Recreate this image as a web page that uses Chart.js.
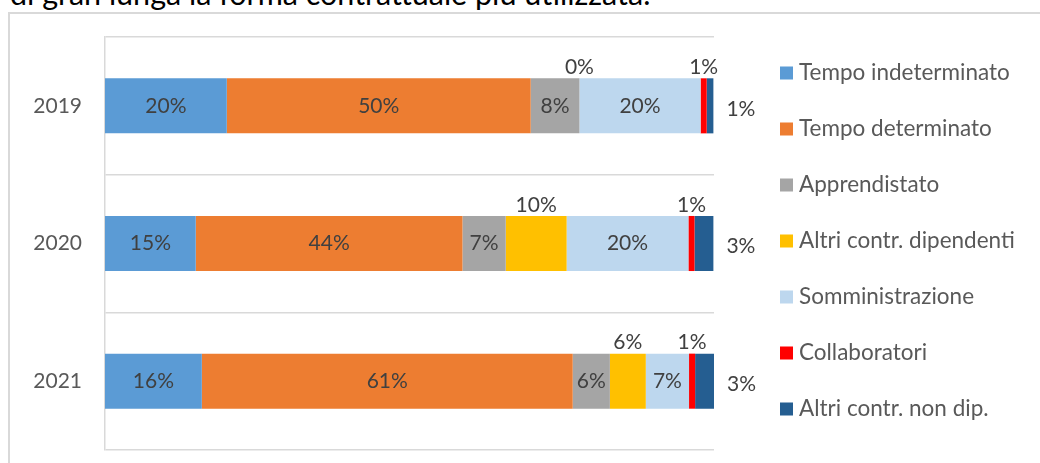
<!DOCTYPE html>
<html>
<head>
<meta charset="utf-8">
<script src="https://cdn.jsdelivr.net/npm/chart.js@4.4.0/dist/chart.umd.min.js"></script>
<style>
body { margin: 0; width: 1040px; height: 463px; overflow: hidden; background: #fff; position: relative; font-family: Lato, sans-serif; }
#title { position: absolute; left: 10px; top: -22px; font-size: 30.5px; line-height: 30px; color: #000; white-space: nowrap; }
#box { position: absolute; left: 8px; top: 12px; width: 1100px; height: 500px; border: 2px solid #d9d9d9; box-sizing: border-box; }
#grafico { position: absolute; left: 0; top: 0; display: block; }
</style>
</head>
<body>
<div id="title">di gran lunga la forma contrattuale più utilizzata.</div>
<div id="box"></div>
<canvas id="grafico" width="1040" height="463"></canvas>
<script>
// dati (quote % per anno)
var anni = ['2019', '2020', '2021']
var tempoIndeterminato = [20.0, 14.9, 15.9]
var tempoDeterminato = [49.9, 43.8, 60.9]
var apprendistato = [8.0, 7.1, 6.1]
var altriDipendenti = [0, 10.0, 5.9]
var somministrazione = [19.9, 20.0, 7.1]
var collaboratori = [1.0, 1.0, 1.0]
var altriNonDip = [1.1, 3.1, 3.1]

var nomi = ['Tempo indeterminato', 'Tempo determinato', 'Apprendistato', 'Altri contr. dipendenti',
	'Somministrazione', 'Collaboratori', 'Altri contr. non dip.']
var colori = ['#5B9BD5', '#ED7D31', '#A5A5A5', '#FFC000', '#BDD7EE', '#FF0000', '#255E91']
// dove scrivere l'etichetta di ogni serie
var posizioni = ['dentro', 'dentro', 'dentro', 'sopra', 'dentro', 'sopra', 'destra']

var serie = [tempoIndeterminato, tempoDeterminato, apprendistato, altriDipendenti,
	somministrazione, collaboratori, altriNonDip]

var FONT = 'Lato, sans-serif'

var etichette = {
	id: 'etichette',
	afterDatasetsDraw: function(chart) {
		var ctx = chart.ctx
		ctx.save()
		ctx.font = '21px ' + FONT
		ctx.fillStyle = '#404040'
		ctx.textBaseline = 'middle'
		chart.data.datasets.forEach(function(ds, i) {
			var meta = chart.getDatasetMeta(i)
			meta.data.forEach(function(bar, j) {
				var testo = Math.round(ds.data[j]) + '%'
				var pos = posizioni[i]
				var x, y
				if (pos == 'destra') {
					ctx.textAlign = 'left'
					x = bar.x + 13
					y = bar.y + 3
				} else if (pos == 'sopra') {
					ctx.textAlign = 'center'
					x = (bar.x + bar.base) / 2
					y = bar.y - bar.height / 2 - 11
				} else {
					ctx.textAlign = 'center'
					x = (bar.x + bar.base) / 2
					y = bar.y
				}
				ctx.fillText(testo, x, y)
			})
		})
		ctx.restore()
	}
}

var legenda = {
	id: 'legenda',
	afterDraw: function(chart) {
		var ctx = chart.ctx
		ctx.save()
		ctx.font = '22.5px ' + FONT
		ctx.textBaseline = 'middle'
		ctx.textAlign = 'left'
		chart.data.datasets.forEach(function(ds, i) {
			var y = 73 + i * 56
			ctx.fillStyle = ds.backgroundColor
			ctx.fillRect(780, y - 6.5, 13, 13)
			ctx.fillStyle = '#595959'
			ctx.fillText(ds.label, 799, y)
		})
		ctx.restore()
	}
}

var datasets = []
for (var i = 0; i < serie.length; i++) {
	datasets.push({
		label: nomi[i],
		data: serie[i],
		backgroundColor: colori[i],
		borderWidth: 0,
		barPercentage: 0.4,
		categoryPercentage: 1
	})
}

var ctxB = document.getElementById('grafico').getContext('2d')
var grafico = new Chart(ctxB, {
	type: 'bar',
	data: { labels: anni, datasets: datasets },
	options: {
		indexAxis: 'y',
		responsive: false,
		animation: false,
		layout: { padding: { left: 8, top: 37, right: 326, bottom: 13 } },
		plugins: {
			legend: { display: false },
			tooltip: { enabled: false }
		},
		scales: {
			x: {
				stacked: true,
				min: 0,
				max: 100,
				display: false
			},
			y: {
				stacked: true,
				afterFit: function(s) {
					s.width = 97
					// il padding delle etichette non deve restringere l'area verticale
					s.paddingTop = 0
					s.paddingBottom = 0
				},
				grid: { color: '#d9d9d9', lineWidth: 1.5, drawTicks: false, offset: true },
				border: { color: '#d9d9d9', width: 1.5 },
				ticks: { color: '#595959', font: { family: FONT, size: 21 }, padding: 23 }
			}
		}
	},
	plugins: [etichette, legenda]
})
</script>
</body>
</html>
